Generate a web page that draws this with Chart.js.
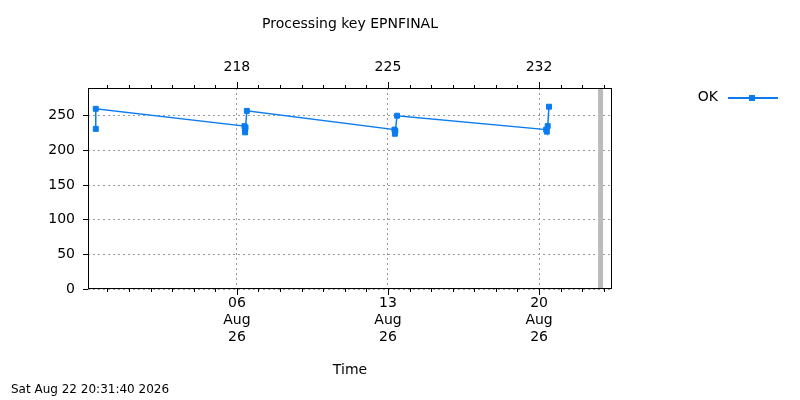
<!DOCTYPE html><html><head><script src="https://cdn.jsdelivr.net/npm/chart.js@4"></script>
<style>body{margin:0;background:#fff}</style></head><body><canvas id="c" width="800" height="400"></canvas>
<script>
const dayOfYear=[211.46,211.46,218.35,218.37,218.38,218.40,218.46,225.30,225.32,225.34,225.42,232.33,232.36,232.40,232.46];
const okValues=[231,260,235,230,226,233,257,230,224,228,250,230,227,235,263];
const majorDays=[218,225,232];
const majorLabels=[["06","Aug","26"],["13","Aug","26"],["20","Aug","26"]];
const nowDay=234.85;
const F='"DejaVu Sans", sans-serif';
const extra={id:'extra',afterDraw(ch){const c=ch.ctx,a=ch.chartArea,x=ch.scales.x;c.save();
c.fillStyle='#000';c.font='14px '+F;c.textAlign='center';c.textBaseline='middle';
c.fillText('Processing key EPNFINAL',350,24);c.fillText('Time',350,370);
c.textAlign='left';c.font='12px '+F;c.fillText('Sat Aug 22 20:31:40 2026',11,390);
c.font='14px '+F;c.textAlign='right';c.fillText('OK',718,97);
c.strokeStyle='#0a7cf0';c.lineWidth=2;c.beginPath();c.moveTo(728,98);c.lineTo(778,98);c.stroke();
c.fillStyle='#0a7cf0';c.fillRect(749,95,6,6);
c.fillStyle='#000';c.textAlign='center';
majorDays.forEach(d=>{c.fillText(String(d),x.getPixelForValue(d),67);});
c.strokeStyle='#000';c.lineWidth=1;c.beginPath();
for(let d=Math.ceil(x.min);d<=x.max;d++){const px=Math.round(x.getPixelForValue(d))+0.5;const L=majorDays.includes(d)?6:3;
c.moveTo(px,a.bottom);c.lineTo(px,a.bottom+L);c.moveTo(px,a.top);c.lineTo(px,a.top-L);}
c.stroke();
c.strokeStyle='#bbb';c.lineWidth=5;const nx=x.getPixelForValue(nowDay);c.beginPath();c.moveTo(nx,a.top);c.lineTo(nx,a.bottom);c.stroke();
c.strokeStyle='#000';c.lineWidth=1;c.strokeRect(a.left+0.5,a.top+0.5,a.width-1,a.height-1);
c.restore();}};
new Chart(document.getElementById('c'),{type:'line',
data:{datasets:[{label:'OK',data:dayOfYear.map((d,i)=>({x:d,y:okValues[i]})),borderColor:'#0a7cf0',backgroundColor:'#0a7cf0',borderWidth:1.5,pointStyle:'rect',pointRadius:3.5,pointBorderWidth:1}]},
options:{responsive:false,animation:false,devicePixelRatio:1,
layout:{padding:{left:0,right:188,top:0,bottom:0}},
plugins:{legend:{display:false},tooltip:{enabled:false}},
scales:{
x:{type:'linear',min:211.1,max:235.38,afterFit(s){s.height=111;},
afterBuildTicks(s){s.ticks=majorDays.map(v=>({value:v}));},
ticks:{color:'#000',font:{family:F,size:14},maxRotation:0,autoSkip:false,padding:6,callback:(v)=>{const i=majorDays.indexOf(v);return i>=0?majorLabels[i]:'';}},
grid:{color:'#999',drawTicks:false,tickLength:0},border:{display:false,dash:[2,3]}},
x2:{type:'linear',position:'top',min:211.1,max:235.38,afterFit(s){s.height=88;},ticks:{display:false},grid:{display:false},border:{display:false}},
y:{min:0,max:290,afterFit(s){s.width=88;},afterBuildTicks(s){s.ticks=[0,50,100,150,200,250].map(v=>({value:v}));},
ticks:{color:'#000',font:{family:F,size:14},padding:8},
grid:{color:'#999',tickLength:5,tickColor:'#000'},border:{display:false,dash:[2,3]}}
}},plugins:[extra]});
</script></body></html>
